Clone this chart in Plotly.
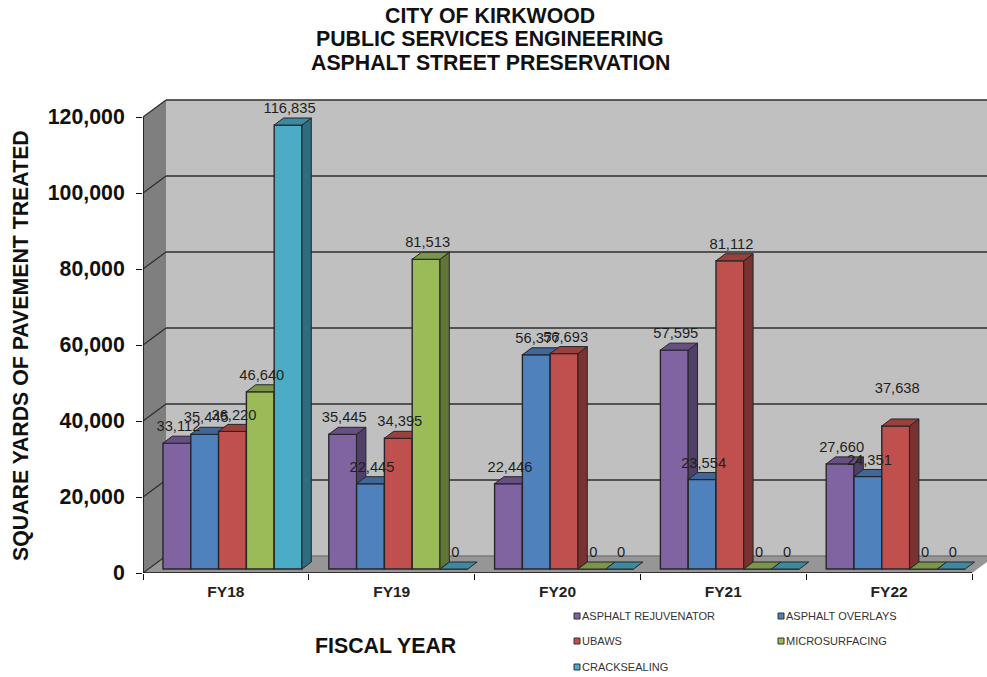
import plotly.graph_objects as go

# ---- data -------------------------------------------------------------
categories = ["FY18", "FY19", "FY20", "FY21", "FY22"]
asphalt_rejuvenator = [33112, 35445, 22446, 57595, 27660]
asphalt_overlays = [35445, 22445, 56377, 23554, 24351]
ubaws = [36220, 34395, 56693, 81112, 37638]
microsurfacing = [46640, 81513, 0, 0, 0]
cracksealing = [116835, 0, 0, 0, 0]
series_names = ["ASPHALT REJUVENATOR", "ASPHALT OVERLAYS", "UBAWS", "MICROSURFACING", "CRACKSEALING"]
y_ticks = [0, 20000, 40000, 60000, 80000, 100000, 120000]
y_tick_labels = ["0", "20,000", "40,000", "60,000", "80,000", "100,000", "120,000"]
title_lines = ["CITY OF KIRKWOOD", "PUBLIC SERVICES ENGINEERING", "ASPHALT STREET PRESERVATION"]

series_values = [asphalt_rejuvenator, asphalt_overlays, ubaws, microsurfacing, cracksealing]

# ---- styling / geometry -----------------------------------------------
W, H = 987, 677
FONT = "Liberation Sans"
front = ["#8064A2", "#4F81BD", "#C0504D", "#9BBB59", "#4BACC6"]
top = ["#664F82", "#3F6797", "#9A403D", "#7C9647", "#3C8A9F"]
side = ["#503F66", "#315177", "#7A3230", "#617535", "#2F6C7D"]
EDGE = "#26262A"

PX_L, PX_R, PX_T, PX_B = 143, 987, 95, 573   # plot area in pixels
PX_CAT = 165.8                               # pixels per category
PX_VAL = 3.8 / 1000                          # pixels per value unit
x_range = [0, (PX_R - PX_L) / PX_CAT]
y_range = [0, (PX_B - PX_T) / PX_VAL]

def dx(px):
    return px / PX_CAT

def dy(px):
    return px / PX_VAL

def paper_x(px):
    return (px - PX_L) / (PX_R - PX_L)

def paper_y(px):
    return (PX_B - px) / (PX_B - PX_T)

WALL_X, WALL_Y = dx(23), dy(17)
BAR_X, BAR_Y = dx(9.3), dy(7)
BAR_W = dx(27.8)
BAR_START = dx(20)
BAR_BASE = dy(4)
LABEL_UP = 15.5
label_extra_px = {(4, 2): 21}    # FY22 UBAWS label sits higher in the original

fig = go.Figure()

# ---- one overlaid axis pair per series, so later bars cover earlier sides ----
for s, values in enumerate(series_values):
    xa = "x" if s == 0 else f"x{s + 1}"
    ya = "y" if s == 0 else f"y{s + 1}"
    xs = [c + BAR_START + (s + 0.5) * BAR_W for c in range(len(categories))]
    fig.add_trace(go.Bar(
        x=xs, y=values, base=BAR_BASE, width=BAR_W, name=series_names[s],
        marker=dict(color=front[s], line=dict(color=EDGE, width=1.4)),
        xaxis=xa, yaxis=ya, showlegend=False,
    ))
    tx, ty, sx, sy = [], [], [], []
    for x, v in zip(xs, values):
        l, r = x - BAR_W / 2, x + BAR_W / 2
        t = BAR_BASE + v
        tx += [l, r, r + BAR_X, l + BAR_X, l, None]
        ty += [t, t, t + BAR_Y, t + BAR_Y, t, None]
        if v > 0:
            sx += [r, r + BAR_X, r + BAR_X, r, r, None]
            sy += [BAR_BASE, BAR_BASE + BAR_Y, t + BAR_Y, t, BAR_BASE, None]
    for px_, py_, col in ((sx, sy, side[s]), (tx, ty, top[s])):
        fig.add_trace(go.Scatter(
            x=px_, y=py_, mode="lines", fill="toself", fillcolor=col,
            line=dict(color=EDGE, width=1), xaxis=xa, yaxis=ya,
            showlegend=False, hoverinfo="skip",
        ))

# ---- data labels on the top layer ----
last = len(series_values)
for s, values in enumerate(series_values):
    xs = [c + BAR_START + (s + 0.5) * BAR_W + dx(1.5) for c in range(len(categories))]
    ys = [BAR_BASE + v + dy(LABEL_UP + label_extra_px.get((c, s), 0)) for c, v in enumerate(values)]
    fig.add_trace(go.Scatter(
        x=xs, y=ys, mode="text", text=[f"{v:,}" for v in values],
        textposition="middle center",
        textfont=dict(family=FONT, size=14.7, color="#1f1f1f"),
        cliponaxis=False, xaxis=f"x{last}", yaxis=f"y{last}",
        showlegend=False, hoverinfo="skip",
    ))

# ---- walls, floor and gridlines -----------------------------------------
shapes = []
n = len(categories)
def poly(points, fill, line=None, width=0):
    path = "M" + " L".join(f"{a},{b}" for a, b in points) + " Z"
    shapes.append(dict(type="path", path=path, xref="x", yref="y", layer="below",
                       fillcolor=fill, line=dict(color=line or fill, width=width)))

ymax = y_ticks[-1]
poly([(WALL_X, WALL_Y), (x_range[1] + 1, WALL_Y), (x_range[1] + 1, ymax + WALL_Y), (WALL_X, ymax + WALL_Y)], "#C0C0C0")
poly([(0, 0), (WALL_X, WALL_Y), (WALL_X, ymax + WALL_Y), (0, ymax)], "#7F7F7F")
poly([(0, 0), (n, 0), (n + WALL_X, WALL_Y), (WALL_X, WALL_Y)], "#969696")
for v in y_ticks:
    shapes.append(dict(type="line", xref="x", yref="y", layer="below", x0=WALL_X, x1=x_range[1] + 1,
                       y0=v + WALL_Y, y1=v + WALL_Y,
                       line=dict(color="#2e2e2e" if v else "#7a7a7a", width=1.6)))
    shapes.append(dict(type="line", xref="x", yref="y", layer="below", x0=0, x1=WALL_X,
                       y0=v, y1=v + WALL_Y, line=dict(color="#2e2e2e", width=1.2)))
shapes.append(dict(type="line", xref="x", yref="y", x0=0, x1=0, y0=0, y1=ymax, line=dict(color="#111", width=1.6)))
shapes.append(dict(type="line", xref="x", yref="y", x0=0, x1=n, y0=0, y1=0, line=dict(color="#111", width=1.6)))

# ---- legend (square + label), laid out as in the original ----------------
legend_cols = [574, 778]
legend_rows = [616, 641, 667]
annotations = []
for s, name in enumerate(series_names):
    lx = legend_cols[s % 2]
    ly = legend_rows[s // 2]
    shapes.append(dict(type="rect", xref="paper", yref="paper",
                       x0=paper_x(lx), x1=paper_x(lx + 6),
                       y0=paper_y(ly + 3), y1=paper_y(ly - 3),
                       fillcolor=front[s], line=dict(color="#333", width=1)))
    annotations.append(dict(text=name, xref="paper", yref="paper", showarrow=False,
                            x=paper_x(lx + 6), y=paper_y(ly),
                            xanchor="left", yanchor="middle",
                            font=dict(family=FONT, size=11, color="#333")))

annotations.append(dict(text="FISCAL YEAR", xref="paper", yref="paper", showarrow=False,
                        x=paper_x(385.5), y=paper_y(646),
                        xanchor="center", yanchor="middle",
                        font=dict(family=FONT, size=21.3, color="#111", weight="bold")))
annotations.append(dict(text="SQUARE YARDS OF PAVEMENT TREATED", xref="paper", yref="paper", showarrow=False,
                        x=paper_x(21), y=paper_y(346),
                        xanchor="center", yanchor="middle", textangle=-90,
                        font=dict(family=FONT, size=21.3, color="#111", weight="bold")))
for line, ly in zip(title_lines, [16, 39.5, 63]):
    annotations.append(dict(text=line, xref="paper", yref="paper", showarrow=False,
                            x=paper_x(490), y=paper_y(ly),
                            xanchor="center", yanchor="middle",
                            font=dict(family=FONT, size=21.3, color="#111", weight="bold")))

# ---- layout ---------------------------------------------------------------
layout = dict(
    width=W, height=H, autosize=False,
    margin=dict(l=PX_L, r=W - PX_R, t=PX_T, b=H - PX_B),
    paper_bgcolor="white", plot_bgcolor="white",
    barmode="overlay", shapes=shapes, annotations=annotations,
    xaxis=dict(range=x_range, showgrid=False, zeroline=False, showline=False,
               tickmode="array", tickvals=[c + 0.5 for c in range(n)], ticktext=categories,
               ticks="", ticklabelstandoff=7,
               tickfont=dict(family=FONT, size=15.5, color="#222", weight="bold"),
               minor=dict(tickmode="array", tickvals=list(range(n + 1)), ticks="outside",
                          ticklen=6, tickcolor="#111", tickwidth=1.3, showgrid=False)),
    yaxis=dict(range=y_range, showgrid=False, zeroline=False, showline=False,
               tickmode="array", tickvals=y_ticks, ticktext=y_tick_labels,
               ticks="outside", ticklen=6, tickcolor="#111", tickwidth=1.3, ticklabelstandoff=7,
               tickfont=dict(family=FONT, size=21.3, color="#111", weight="bold")),
)
for s in range(2, last + 1):
    layout[f"xaxis{s}"] = dict(range=x_range, overlaying="x", anchor=f"y{s}", visible=False)
    layout[f"yaxis{s}"] = dict(range=y_range, overlaying="y", anchor=f"x{s}", visible=False)
fig.update_layout(**layout)

fig.write_html("out.html", config={"displayModeBar": False},
               post_script="document.body.style.margin='0';")
